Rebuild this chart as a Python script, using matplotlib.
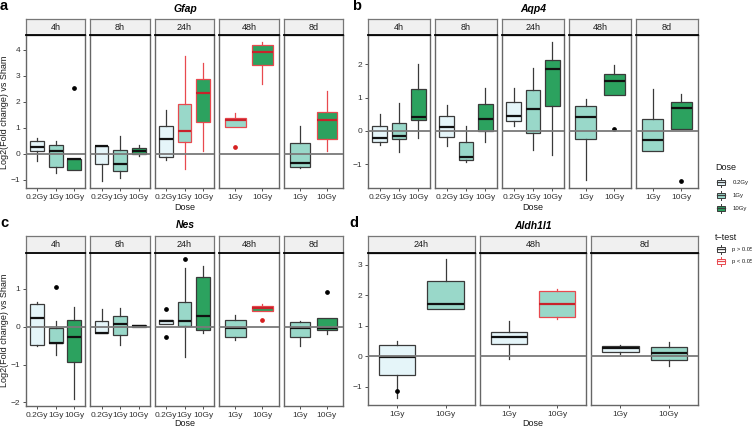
import matplotlib
matplotlib.use('Agg')
import matplotlib.pyplot as plt
from matplotlib.patches import Rectangle
from matplotlib.ticker import MultipleLocator

plt.rcParams['font.family'] = ['Liberation Sans', 'DejaVu Sans']

# one box per entry: time, dose, whisker low, q1, median, q3, whisker high, t-test, outliers
gfap_time = ['4h', '4h', '4h', '8h', '8h', '8h', '24h', '24h', '24h', '48h', '48h', '8d', '8d']
gfap_dose = ['0.2Gy', '1Gy', '10Gy'] * 3 + ['1Gy', '10Gy'] * 2
gfap_lo = [-0.28, -0.74, -0.63, -1.06, -0.93, -0.10, -0.25, -0.60, 0.12, 1.04, 2.70, -0.55, 0.09]
gfap_q1 = [0.09, -0.49, -0.63, -0.38, -0.66, 0.00, -0.12, 0.44, 1.21, 1.04, 3.41, -0.51, 0.57]
gfap_med = [0.28, 0.10, -0.20, 0.29, -0.40, 0.11, 0.55, 0.87, 2.35, 1.30, 3.90, -0.36, 1.30]
gfap_q3 = [0.51, 0.33, -0.19, 0.31, 0.13, 0.22, 1.08, 1.91, 2.88, 1.39, 4.18, 0.41, 1.62]
gfap_hi = [0.62, 0.49, -0.19, 0.31, 0.69, 0.34, 1.68, 3.77, 3.50, 1.57, 4.29, 1.07, 2.42]
gfap_sig = [0, 0, 0, 0, 0, 0, 0, 1, 1, 1, 1, 0, 1]
gfap_out = [[], [], [2.53], [], [], [], [], [], [], [0.27], [], [], []]

aqp4_time = gfap_time
aqp4_dose = gfap_dose
aqp4_lo = [-0.42, -0.63, -0.22, -0.46, -0.95, -0.33, 0.15, -0.57, -0.73, -1.47, 1.07, -0.62, 0.05]
aqp4_q1 = [-0.33, -0.25, 0.32, -0.17, -0.88, 0.00, 0.29, -0.05, 0.75, -0.25, 1.07, -0.62, 0.05]
aqp4_med = [-0.22, -0.15, 0.42, 0.13, -0.80, 0.35, 0.45, 0.67, 1.85, 0.43, 1.51, -0.27, 0.69]
aqp4_q3 = [0.15, 0.23, 1.26, 0.45, -0.33, 0.82, 0.88, 1.23, 2.13, 0.75, 1.70, 0.37, 0.87]
aqp4_hi = [0.52, 0.85, 2.00, 0.77, 0.15, 1.28, 1.30, 1.90, 2.67, 0.95, 1.99, 1.25, 1.10]
aqp4_sig = [0] * 13
aqp4_out = [[], [], [], [], [], [], [], [], [], [], [0.05], [], [-1.52]]

nes_time = gfap_time
nes_dose = gfap_dose
nes_lo = [-0.52, -0.74, -1.91, -0.17, -0.48, 0.00, 0.07, -0.79, -0.17, -0.35, 0.41, -0.51, -0.19]
nes_q1 = [-0.48, -0.44, -0.92, -0.17, -0.22, 0.00, 0.07, 0.02, -0.09, -0.26, 0.41, -0.26, -0.09]
nes_med = [0.24, -0.42, -0.26, -0.16, 0.07, 0.03, 0.14, 0.16, 0.29, -0.04, 0.50, -0.03, -0.04]
nes_q3 = [0.59, -0.03, 0.17, 0.15, 0.29, 0.04, 0.19, 0.65, 1.31, 0.19, 0.54, 0.12, 0.22]
nes_hi = [0.66, 0.15, 0.53, 0.46, 0.50, 0.04, 0.19, 1.56, 1.62, 0.32, 0.61, 0.15, 0.22]
nes_sig = [0, 0, 0, 0, 0, 0, 0, 0, 0, 0, 1, 0, 0]
nes_out = [[], [1.05], [], [], [], [], [0.46, -0.26], [1.78], [], [], [0.17], [], [0.92]]

aldh_time = ['24h', '24h', '48h', '48h', '8d', '8d']
aldh_dose = ['1Gy', '10Gy'] * 3
aldh_lo = [-1.38, 1.55, -0.08, 1.23, 0.08, -0.33]
aldh_q1 = [-0.62, 1.55, 0.41, 1.29, 0.14, -0.12]
aldh_med = [-0.02, 1.73, 0.63, 1.71, 0.27, 0.11]
aldh_q3 = [0.36, 2.48, 0.78, 2.15, 0.32, 0.31]
aldh_hi = [0.49, 3.18, 1.17, 2.21, 0.35, 0.47]
aldh_sig = [0, 0, 0, 1, 0, 0]
aldh_out = [[-1.14], [], [], [], [], []]

times5 = ['4h', '8h', '24h', '48h', '8d']
times3 = ['24h', '48h', '8d']
pal3 = {'0.2Gy': '#e5f5f9', '1Gy': '#99d8c9', '10Gy': '#2ca25f'}
pal2 = {'1Gy': '#e5f5f9', '10Gy': '#99d8c9'}

RED = '#e8494f'
RED_MED = '#c8232b'
DARK = '#3a3a3a'

W, H = 752, 428
fig = plt.figure(figsize=(W / 100, H / 100), dpi=100)


def px_axes(x0, y0, x1, y1):
    return fig.add_axes([x0 / W, 1 - y1 / H, (x1 - x0) / W, (y1 - y0) / H])


def facet_row(x0, x1, y_strip, y_top, y_bot, times, t_col, d_col, lo, q1, med, q3, hi, sig, out, pal):
    n = len(times)
    gap = 5
    w = (x1 - x0 - gap * (n - 1)) / n
    allv = lo + hi + [v for o in out for v in o]
    vmin, vmax = min(allv), max(allv)
    pad = (vmax - vmin) * 0.05
    for k, t in enumerate(times):
        left = x0 + k * (w + gap)
        ax = px_axes(left, y_top, left + w, y_bot)
        idx = [i for i in range(len(t_col)) if t_col[i] == t]
        for j, i in enumerate(idx):
            edge = RED if sig[i] else DARK
            mcol = RED_MED if sig[i] else '#111111'
            fcol = '#d62020' if sig[i] else 'black'
            st = {'med': med[i], 'q1': q1[i], 'q3': q3[i], 'whislo': lo[i], 'whishi': hi[i], 'fliers': out[i]}
            ax.bxp([st], positions=[j + 1], widths=0.75, patch_artist=True, showcaps=False,
                   manage_ticks=False,
                   boxprops=dict(facecolor=pal[d_col[i]], edgecolor=edge, lw=0.9),
                   whiskerprops=dict(color=edge, lw=0.9),
                   medianprops=dict(color=mcol, lw=1.6),
                   flierprops=dict(marker='o', markersize=2.4, markerfacecolor=fcol,
                                   markeredgecolor=fcol, linestyle='none'))
        ax.axhline(0, color='#7a7a7a', lw=1.3, zorder=5)
        ax.set_xlim(0.4, len(idx) + 0.6)
        ax.set_ylim(vmin - pad, vmax + pad)
        ax.set_xticks(range(1, len(idx) + 1))
        ax.set_xticklabels([d_col[i] for i in idx])
        ax.yaxis.set_major_locator(MultipleLocator(1))
        ax.tick_params(axis='both', length=2.5, width=0.6, color='#333333', pad=1.5,
                       labelsize=6, labelcolor='#333333')
        if k > 0:
            ax.tick_params(axis='y', left=False, labelleft=False)
        for sp in ax.spines.values():
            sp.set_color('#666666')
            sp.set_linewidth(1.0)
        # strip
        s = px_axes(left, y_strip, left + w, y_top)
        s.set_facecolor('#f0f0f0')
        s.set_xticks([])
        s.set_yticks([])
        for sp in s.spines.values():
            sp.set_color('#777777')
            sp.set_linewidth(0.9)
        s.spines['bottom'].set_color('black')
        s.spines['bottom'].set_linewidth(1.3)
        s.text(0.5, 0.5, t, transform=s.transAxes, ha='center', va='center',
               fontsize=6.5, color='#1a1a1a')


facet_row(26, 343, 19.3, 35.3, 188.3, times5, gfap_time, gfap_dose, gfap_lo, gfap_q1,
          gfap_med, gfap_q3, gfap_hi, gfap_sig, gfap_out, pal3)
facet_row(368, 698, 19.3, 35.3, 188.3, times5, aqp4_time, aqp4_dose, aqp4_lo, aqp4_q1,
          aqp4_med, aqp4_q3, aqp4_hi, aqp4_sig, aqp4_out, pal3)
facet_row(26, 343, 236, 252.5, 406, times5, nes_time, nes_dose, nes_lo, nes_q1,
          nes_med, nes_q3, nes_hi, nes_sig, nes_out, pal3)
facet_row(368, 698, 236, 252.5, 405, times3, aldh_time, aldh_dose, aldh_lo, aldh_q1,
          aldh_med, aldh_q3, aldh_hi, aldh_sig, aldh_out, pal2)

# overlay in pixel coordinates for titles and legend
ov = fig.add_axes([0, 0, 1, 1], facecolor='none')
ov.set_xlim(0, W)
ov.set_ylim(H, 0)
ov.axis('off')

for x, y, s in [(4, 6, 'a'), (357, 6, 'b'), (4, 223, 'c'), (354, 223, 'd')]:
    ov.text(x, y, s, fontsize=10.5, fontweight='bold', ha='center', va='center')
for x, y, s in [(185, 9, 'Gfap'), (533, 9, 'Aqp4'), (185, 225, 'Nes'), (533, 226, 'Aldh1l1')]:
    ov.text(x, y, s, fontsize=7.5, fontweight='bold', fontstyle='italic', ha='center', va='center')
for x, y in [(185, 207), (533, 207), (185, 423), (533, 424)]:
    ov.text(x, y, 'Dose', fontsize=6.5, ha='center', va='center', color='#1a1a1a')
for y in [112, 330]:
    ov.text(5, y, 'Log2(Fold change) vs Sham', fontsize=6.5, rotation=90,
            ha='center', va='center', color='#1a1a1a')


def key(cx, cy, face, edge):
    ov.plot([cx, cx], [cy - 4.5, cy + 4.5], color=edge, lw=0.7, zorder=2)
    ov.add_patch(Rectangle((cx - 4, cy - 2.5), 8, 5, facecolor=face, edgecolor=edge, lw=0.7, zorder=3))
    ov.plot([cx - 4, cx + 4], [cy, cy], color=edge, lw=0.9, zorder=4)


ov.text(715, 167, 'Dose', fontsize=6.5, ha='left', va='center', color='#1a1a1a')
for cy, d in zip([182, 195, 208], ['0.2Gy', '1Gy', '10Gy']):
    key(721, cy, pal3[d], DARK)
    ov.text(733, cy, d, fontsize=4.3, ha='left', va='center', color='#1a1a1a')
ov.text(715, 237, 't\u2212test', fontsize=6.5, ha='left', va='center', color='#1a1a1a')
for cy, lab, col in [(249, 'p > 0.05', DARK), (261, 'p < 0.05', RED)]:
    key(721, cy, 'white', col)
    ov.text(732, cy, lab, fontsize=4.2, ha='left', va='center', color='#1a1a1a')

fig.savefig('out.png', dpi=100)
